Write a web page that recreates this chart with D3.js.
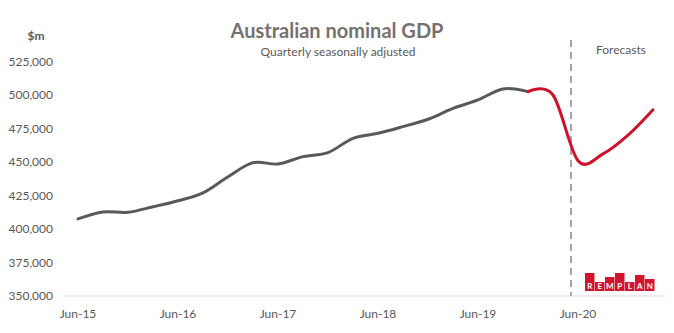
<!DOCTYPE html>
<html>
<head>
<meta charset="utf-8">
<script src="https://cdn.jsdelivr.net/npm/d3@7"></script>
<style>
  body { margin: 0; background: #fff; }
  svg { display: block; font-family: Lato, sans-serif; }
</style>
</head>
<body>
<div class="main"></div>
<script>
const width = 674;
const height = 333;
const margin = ({top: 61.5, right: 8.5, bottom: 37, left: 65.5});

// quarterly categories
const quarters = ['Jun-15','Sep-15','Dec-15','Mar-16','Jun-16','Sep-16','Dec-16','Mar-17',
  'Jun-17','Sep-17','Dec-17','Mar-18','Jun-18','Sep-18','Dec-18','Mar-19',
  'Jun-19','Sep-19','Dec-19','Mar-20','Jun-20','Sep-20','Dec-20','Mar-21'];
// actual GDP, $m (Jun-15 .. Dec-19)
const actual = [407500, 412700, 412500, 416600, 421100, 427000, 439000, 449500,
  448500, 454000, 457000, 467700, 471400, 476400, 481900, 490000, 496300, 504500, 502500];
// forecasts, $m (Dec-19 .. Mar-21)
const forecast = [502500, 500000, 451000, 456000, 470000, 489000];
const forecastFrom = 'Dec-19';
const yTicks = [350000, 375000, 400000, 425000, 450000, 475000, 500000, 525000];
const xLabels = ['Jun-15','Jun-16','Jun-17','Jun-18','Jun-19','Jun-20'];
const forecastLine = 19.72; // in quarter index units, between Mar-20 and Jun-20

const logoLetters = ['R','E','M','P','L','A','N'];
const logoTops = [0, 9, 4, 0, 9, 2, 6];

const svg = d3.select('.main')
  .append('svg')
  .attr('width', width)
  .attr('height', height);

const x = d3.scaleBand()
  .domain(quarters)
  .range([margin.left, width - margin.right]);
const cx = q => x(q) + x.bandwidth() / 2;
const xi = i => margin.left + x.bandwidth() * (i + 0.5);

const y = d3.scaleLinear()
  .domain([350000, 525000])
  .range([height - margin.bottom, margin.top]);

// baseline
svg.append('line')
  .attr('x1', margin.left - 1.5).attr('x2', width - margin.right)
  .attr('y1', y(350000)).attr('y2', y(350000))
  .attr('stroke', '#d9d9d9').attr('stroke-width', 1);

// y labels
svg.append('g')
  .selectAll('text')
  .data(yTicks)
  .enter()
  .append('text')
  .attr('x', 53)
  .attr('y', d => y(d))
  .attr('dy', '0.35em')
  .attr('text-anchor', 'end')
  .style('font-size', '12px')
  .style('fill', '#595959')
  .text(d => d3.format(',')(d));

// x labels
svg.append('g')
  .selectAll('text')
  .data(xLabels)
  .enter()
  .append('text')
  .attr('x', d => cx(d))
  .attr('y', 318)
  .attr('text-anchor', 'middle')
  .style('font-size', '12px')
  .style('fill', '#595959')
  .text(d => d);

// forecast divider
svg.append('line')
  .attr('x1', xi(forecastLine)).attr('x2', xi(forecastLine))
  .attr('y1', 40).attr('y2', y(350000))
  .attr('stroke', '#a6a6a6')
  .attr('stroke-width', 2)
  .attr('stroke-dasharray', '7,5');

const line = d3.line()
  .curve(d3.curveCatmullRom.alpha(0))
  .x(d => d[0])
  .y(d => y(d[1]));

svg.append('path')
  .datum(actual.map((v, i) => [cx(quarters[i]), v]))
  .attr('d', line)
  .attr('fill', 'none')
  .attr('stroke', '#595959')
  .attr('stroke-width', 3)
  .attr('stroke-linecap', 'round');

const f0 = quarters.indexOf(forecastFrom);
svg.append('path')
  .datum(forecast.map((v, i) => [cx(quarters[f0 + i]), v]))
  .attr('d', line)
  .attr('fill', 'none')
  .attr('stroke', '#d0112b')
  .attr('stroke-width', 3)
  .attr('stroke-linecap', 'round');

// titles
svg.append('text')
  .attr('x', 337).attr('y', 38)
  .attr('text-anchor', 'middle')
  .style('font-size', '20px')
  .style('font-weight', 'bold')
  .style('fill', '#767171')
  .text('Australian nominal GDP');

svg.append('text')
  .attr('x', 338).attr('y', 56)
  .attr('text-anchor', 'middle')
  .style('font-size', '12px')
  .style('fill', '#595959')
  .text('Quarterly seasonally adjusted');

svg.append('text')
  .attr('x', 36).attr('y', 40)
  .attr('text-anchor', 'middle')
  .style('font-size', '12px')
  .style('font-weight', 'bold')
  .style('fill', '#595959')
  .text('$m');

svg.append('text')
  .attr('x', 621).attr('y', 54)
  .attr('text-anchor', 'middle')
  .style('font-size', '12px')
  .style('fill', '#595959')
  .text('Forecasts');

// REMPLAN logo
const logo = svg.append('g').attr('transform', 'translate(585, 273)');
logo.selectAll('rect')
  .data(logoLetters)
  .enter()
  .append('rect')
  .attr('x', (d, i) => i * 10)
  .attr('y', (d, i) => logoTops[i])
  .attr('width', 9.5)
  .attr('height', (d, i) => 18 - logoTops[i])
  .attr('fill', '#d2152e');
logo.selectAll('text')
  .data(logoLetters)
  .enter()
  .append('text')
  .attr('x', (d, i) => i * 10 + 4.75)
  .attr('y', 15.5)
  .attr('text-anchor', 'middle')
  .style('font-size', '8px')
  .style('font-weight', 'bold')
  .style('fill', '#fff')
  .text(d => d);
</script>
</body>
</html>
